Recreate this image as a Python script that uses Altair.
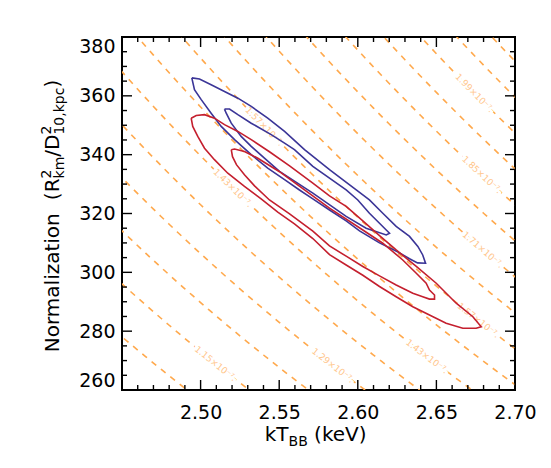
import math
import pandas as pd
import altair as alt

# ---------------- values ----------------
KT_DOMAIN = [2.45, 2.70]
N_DOMAIN = [260, 380]

# constant-flux levels (units of 1e-7 erg/cm^2/s) drawn as dashed lines
FLUX_LEVELS = [1.08, 1.15, 1.22, 1.29, 1.36, 1.43, 1.50, 1.57, 1.64,
               1.71, 1.78, 1.85, 1.92, 1.99, 2.06, 2.13]
FLUX_CONST = 1.078e-4  # flux (1e-7 cgs) per unit normalization per keV^4

# labelled levels and the kT where each label sits
LABEL_LEVELS = [1.15, 1.29, 1.43, 1.43, 1.57, 1.57, 1.71, 1.85, 1.99]
LABEL_KT = [2.5095, 2.5841, 2.6440, 2.5205, 2.5406, 2.6767, 2.6795, 2.6789, 2.6742]

# blue contours
BLUE_OUTER_KT = [2.4944, 2.4993, 2.5067, 2.5152, 2.5237, 2.5322, 2.5427, 2.5534, 2.5661,
                 2.5820, 2.5990, 2.6074, 2.6159, 2.6244, 2.6329, 2.6382, 2.6413, 2.6431,
                 2.6380, 2.6329, 2.6253, 2.6138, 2.6011, 2.5926, 2.5820, 2.5714, 2.5629,
                 2.5534, 2.5427, 2.5322, 2.5216, 2.5131, 2.5067, 2.5004, 2.4961, 2.4944]
BLUE_OUTER_N = [366.1, 365.7, 363.8, 361.5, 359.2, 356.4, 352.4, 347.9, 341.7,
                334.9, 328.0, 324.6, 320.1, 315.6, 312.2, 308.8, 305.9, 303.1,
                303.2, 304.6, 307.0, 310.0, 314.1, 317.5, 321.2, 325.0, 328.0,
                331.5, 335.4, 340.0, 345.1, 349.6, 354.1, 358.7, 362.1, 366.1]

BLUE_INNER_KT = [2.5152, 2.5184, 2.5237, 2.5322, 2.5449, 2.5534, 2.5597, 2.5714, 2.5926,
                 2.6000, 2.6074, 2.6138, 2.6181, 2.6202, 2.6181, 2.6053, 2.5926, 2.5714,
                 2.5502, 2.5406, 2.5322, 2.5258, 2.5195, 2.5163, 2.5152]
BLUE_INNER_N = [355.5, 355.5, 353.6, 350.7, 346.8, 343.9, 341.7, 336.0, 328.0,
                324.6, 320.1, 316.7, 314.4, 313.3, 312.7, 315.0, 319.0, 326.9,
                334.3, 338.8, 342.8, 346.2, 350.7, 354.1, 355.5]

# red contours
RED_OUTER_KT = [2.4940, 2.4972, 2.5025, 2.5088, 2.5152, 2.5237, 2.5322, 2.5438, 2.5566,
                2.5714, 2.5820, 2.5926, 2.6032, 2.6138, 2.6244, 2.6372, 2.6499, 2.6626,
                2.6732, 2.6785, 2.6753, 2.6668, 2.6562, 2.6456, 2.6350, 2.6244, 2.6138,
                2.6032, 2.5926, 2.5820, 2.5714, 2.5597, 2.5491, 2.5385, 2.5279, 2.5173,
                2.5088, 2.5025, 2.4982, 2.4950, 2.4940]
RED_OUTER_N = [352.4, 353.3, 353.6, 352.4, 350.2, 347.9, 345.1, 341.0, 336.2,
               330.3, 326.0, 322.4, 317.5, 312.5, 307.6, 302.0, 296.3, 289.5,
               284.9, 281.5, 281.0, 281.0, 282.7, 285.5, 288.3, 291.7, 295.2,
               299.0, 302.5, 306.0, 311.5, 316.5, 320.5, 325.0, 329.2, 333.7,
               338.3, 342.2, 346.2, 349.6, 352.4]

RED_INNER_KT = [2.5195, 2.5216, 2.5279, 2.5364, 2.5502, 2.5661, 2.5820, 2.6032, 2.6159,
                2.6286, 2.6372, 2.6435, 2.6456, 2.6488, 2.6488, 2.6456, 2.6413, 2.6350,
                2.6244, 2.6138, 2.6032, 2.5926, 2.5820, 2.5714, 2.5566, 2.5438, 2.5343,
                2.5279, 2.5228, 2.5203, 2.5195]
RED_INNER_N = [341.7, 341.9, 341.1, 338.8, 334.2, 328.0, 321.8, 314.4, 309.9,
               304.2, 299.7, 296.3, 294.0, 292.3, 290.9, 290.9, 291.7, 292.9,
               295.7, 298.8, 302.0, 305.5, 309.0, 314.0, 319.9, 324.6, 329.4,
               333.2, 336.6, 339.3, 341.7]

X_MAJOR = [2.50, 2.55, 2.60, 2.65, 2.70]
X_MINOR = [2.46, 2.47, 2.48, 2.49, 2.51, 2.52, 2.53, 2.54, 2.56, 2.57, 2.58, 2.59,
           2.61, 2.62, 2.63, 2.64, 2.66, 2.67, 2.68, 2.69]
Y_MAJOR = [260, 280, 300, 320, 340, 360, 380]
Y_MINOR = [265, 270, 275, 285, 290, 295, 305, 310, 315, 325, 330, 335,
           345, 350, 355, 365, 370, 375]

# ---------------- layout / style ----------------
W, H = 393, 353
FONT = "DejaVu Sans"
BLUE = "#3b3597"
RED = "#c41f2e"
ORANGE = "#ffa94d"
LABEL_ORANGE = "#ffc68c"
TICK_FONT = 19
TITLE_FONT = 20
SUB_FONT = 14
MAJOR_LEN, MINOR_LEN = 10, 5

xs = alt.Scale(domain=KT_DOMAIN, nice=False, zero=False)
ys = alt.Scale(domain=N_DOMAIN, nice=False, zero=False)

# dashed constant-flux lines (carry the labelled axes)
kt_grid = [2.40 + 0.005 * k for k in range(80)]
rows = []
for lev in FLUX_LEVELS:
    for t in kt_grid:
        rows.append({"kT": t, "N": lev / (FLUX_CONST * t ** 4), "lev": lev})
flux_df = pd.DataFrame(rows)

x_axis = alt.Axis(orient="bottom", values=X_MAJOR, format=".2f", ticks=False,
                  domain=False, grid=False, title=None, labelFont=FONT,
                  labelFontSize=TICK_FONT, labelColor="black", labelPadding=13,
                  labelFlush=False)
y_axis = alt.Axis(orient="left", values=Y_MAJOR, format="d", ticks=False,
                  domain=False, grid=False, title=None, labelFont=FONT,
                  labelFontSize=TICK_FONT, labelColor="black", labelPadding=7,
                  labelFlush=True)

flux = alt.Chart(flux_df).mark_line(
    clip=True, color=ORANGE, strokeWidth=1.6, strokeDash=[6, 6]
).encode(
    x=alt.X("kT:Q", scale=xs, axis=x_axis),
    y=alt.Y("N:Q", scale=ys, axis=y_axis),
    detail="lev:N",
)

# flux labels along the dashed lines
lab_rows = []
for lev, t in zip(LABEL_LEVELS, LABEL_KT):
    n = lev / (FLUX_CONST * t ** 4)
    slope = (4 * n / t) * (H / (N_DOMAIN[1] - N_DOMAIN[0])) / (W / (KT_DOMAIN[1] - KT_DOMAIN[0]))
    lab_rows.append({"kT": t, "N": n, "ang": math.degrees(math.atan(slope)),
                     "txt": f"{lev:.2f}\u00d710\u207b\u2077."})
lab_df = pd.DataFrame(lab_rows)

lab_enc = dict(
    x=alt.X("kT:Q", scale=xs, axis=None),
    y=alt.Y("N:Q", scale=ys, axis=None),
    angle=alt.Angle("ang:Q", scale=None),
    text="txt:N",
)
label_knock = alt.Chart(lab_df).mark_text(
    font=FONT, fontSize=9, color="white", stroke="white", strokeWidth=5,
    align="center", baseline="middle"
).encode(**lab_enc)
labels = alt.Chart(lab_df).mark_text(
    font=FONT, fontSize=9, color=LABEL_ORANGE, align="center", baseline="middle"
).encode(**lab_enc)


def contour_df(pairs):
    out = []
    for cid, (kts, ns) in enumerate(pairs):
        for i, (t, n) in enumerate(zip(kts, ns)):
            out.append({"kT": t, "N": n, "i": i, "cid": cid})
    return pd.DataFrame(out)


blue_df = contour_df([(BLUE_OUTER_KT, BLUE_OUTER_N), (BLUE_INNER_KT, BLUE_INNER_N)])
red_df = contour_df([(RED_OUTER_KT, RED_OUTER_N), (RED_INNER_KT, RED_INNER_N)])

blue = alt.Chart(blue_df).mark_line(color=BLUE, strokeWidth=1.6, clip=True).encode(
    x=alt.X("kT:Q", scale=xs, axis=None),
    y=alt.Y("N:Q", scale=ys, axis=None),
    detail="cid:N",
    order="i:Q",
)
red = alt.Chart(red_df).mark_line(color=RED, strokeWidth=1.6, clip=True).encode(
    x=alt.X("kT:Q", scale=xs, axis=None),
    y=alt.Y("N:Q", scale=ys, axis=None),
    detail="cid:N",
    order="i:Q",
)

# ---------------- inward ticks on all four sides ----------------
xt_major = pd.DataFrame({"v": X_MAJOR})
xt_minor = pd.DataFrame({"v": X_MINOR})
yt_major = pd.DataFrame({"v": Y_MAJOR})
yt_minor = pd.DataFrame({"v": Y_MINOR})


def xticks(df, y0, y1):
    return alt.Chart(df).mark_rule(color="black", strokeWidth=1.4).encode(
        x=alt.X("v:Q", scale=xs, axis=None), y=alt.value(y0), y2=alt.value(y1))


def yticks(df, x0, x1):
    return alt.Chart(df).mark_rule(color="black", strokeWidth=1.4).encode(
        y=alt.Y("v:Q", scale=ys, axis=None), x=alt.value(x0), x2=alt.value(x1))


tick_layers = [
    xticks(xt_major, H, H - MAJOR_LEN), xticks(xt_minor, H, H - MINOR_LEN),
    xticks(xt_major, 0, MAJOR_LEN), xticks(xt_minor, 0, MINOR_LEN),
    yticks(yt_major, 0, MAJOR_LEN), yticks(yt_minor, 0, MINOR_LEN),
    yticks(yt_major, W, W - MAJOR_LEN), yticks(yt_minor, W, W - MINOR_LEN),
]

# ---------------- axis titles with sub/superscripts ----------------
CW = {'k': .579, 'T': .611, 'B': .686, ' ': .318, '(': .390, ')': .390, 'e': .615,
      'V': .684, 'N': .748, 'o': .612, 'r': .411, 'm': .974, 'a': .613, 'l': .278,
      'i': .278, 'z': .525, 't': .392, 'n': .634, 'R': .695, '/': .337, 'D': .770,
      'p': .635, 'c': .550, ',': .318, 'v': .592}


def tw(s, size):
    return sum(CW.get(ch, .636) for ch in s) * size


DUMMY = pd.DataFrame({"a": [0]})


def piece(txt, x, y, size, angle=0):
    return alt.Chart(DUMMY).mark_text(
        text=txt, font=FONT, fontSize=size, color="black", align="left",
        baseline="alphabetic", angle=angle
    ).encode(x=alt.value(x), y=alt.value(y))


title_layers = []
# x title: kT_BB (keV)
xp = [("kT", TITLE_FONT, 0), ("BB", SUB_FONT, 4.5), (" ", TITLE_FONT, 0),
      ("(keV)", TITLE_FONT, 0)]
tot = sum(tw(s, f) for s, f, _ in xp)
cx = 194 - tot / 2
for s, f, dy in xp:
    if s.strip():
        title_layers.append(piece(s, cx, 404 + dy, f))
    cx += tw(s, f)

# y title: Normalization (R^2_km / D^2_10,kpc), rotated
yp = [("Normalization", None), ("  ", None), ("(R", None), ("2", "km"), ("/D", None),
      ("2", "10,kpc"), (")", None)]
segs = []
for a, b in yp:
    if b is None:
        segs.append((a, None, tw(a, TITLE_FONT)))
    else:
        segs.append((a, b, max(tw(a, SUB_FONT), tw(b, SUB_FONT))))
tot = sum(s[2] for s in segs)
bx = -63
cy = 179 + tot / 2
for a, b, w in segs:
    if b is None:
        if a.strip():
            title_layers.append(piece(a, bx, cy, TITLE_FONT, 270))
    else:
        title_layers.append(piece(a, bx - 8, cy, SUB_FONT, 270))
        title_layers.append(piece(b, bx + 5, cy, SUB_FONT, 270))
    cy -= w

chart = alt.layer(
    flux, label_knock, labels, blue, red, *tick_layers, *title_layers
).resolve_axis(
    x="independent", y="independent"
).properties(
    width=W, height=H,
    padding={"left": 114, "top": 29, "right": 28, "bottom": 70},
    autosize=alt.AutoSizeParams(type="none"),
).configure_view(stroke="black", strokeWidth=2)

chart.save("out.html", embed_options={"renderer": "svg", "actions": False})
